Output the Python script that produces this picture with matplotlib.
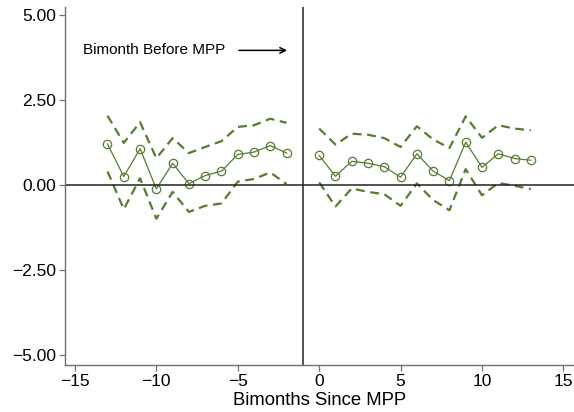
import matplotlib
matplotlib.use("Agg")
import matplotlib.pyplot as plt

plt.rcParams['font.family'] = ['Liberation Sans', 'DejaVu Sans']

# bimonths before MPP
x_pre = [-13, -12, -11, -10, -9, -8, -7, -6, -5, -4, -3, -2]
est_pre = [1.21, 0.25, 1.07, -0.11, 0.64, 0.04, 0.28, 0.41, 0.90, 0.97, 1.16, 0.94]
hi_pre = [2.04, 1.24, 1.85, 0.79, 1.38, 0.94, 1.12, 1.29, 1.71, 1.76, 1.95, 1.83]
lo_pre = [0.40, -0.71, 0.20, -0.99, -0.20, -0.79, -0.61, -0.54, 0.10, 0.18, 0.37, 0.03]

# bimonths after MPP
x_post = [0, 1, 2, 3, 4, 5, 6, 7, 8, 9, 10, 11, 12, 13]
est_post = [0.87, 0.26, 0.70, 0.64, 0.54, 0.23, 0.92, 0.41, 0.13, 1.26, 0.52, 0.92, 0.78, 0.73]
hi_post = [1.66, 1.19, 1.51, 1.48, 1.38, 1.12, 1.73, 1.34, 1.09, 2.02, 1.39, 1.76, 1.66, 1.61]
lo_post = [0.08, -0.63, -0.10, -0.20, -0.27, -0.61, 0.05, -0.44, -0.74, 0.47, -0.30, 0.06, -0.02, -0.12]

green = '#567d2e'

fig = plt.figure(figsize=(5.74, 4.12), dpi=100)
ax = fig.add_axes([65 / 574, 47 / 412, 509 / 574, 358 / 412])

for xs, est, hi, lo in [(x_pre, est_pre, hi_pre, lo_pre), (x_post, est_post, hi_post, lo_post)]:
    ax.plot(xs, hi, color=green, lw=1.6, ls=(0, (4, 2.5)))
    ax.plot(xs, lo, color=green, lw=1.6, ls=(0, (4, 2.5)))
    ax.plot(xs, est, color=green, lw=0.9, marker='o', markersize=6,
            markerfacecolor='none', markeredgecolor=green, markeredgewidth=0.9)

ax.axhline(0, color='#222222', lw=1.1)
ax.axvline(-1, color='#222222', lw=1.1)

ax.annotate('', xy=(-1.8, 3.96), xytext=(-5.1, 3.96),
            arrowprops=dict(arrowstyle='->', color='black', lw=1.1))
ax.text(-14.5, 3.96, 'Bimonth Before MPP', fontsize=11, va='center', ha='left')

ax.set_xlim(-15.61, 15.65)
ax.set_ylim(-5.29, 5.235)
ax.set_xticks([-15, -10, -5, 0, 5, 10, 15])
ax.set_xticklabels(['\u221215', '\u221210', '\u22125', '0', '5', '10', '15'])
ax.set_yticks([5, 2.5, 0, -2.5, -5])
ax.set_yticklabels(['5.00', '2.50', '0.00', '\u22122.50', '\u22125.00'])
ax.set_xlabel('Bimonths Since MPP', fontsize=13.3, labelpad=2)

for s in ['top', 'right']:
    ax.spines[s].set_visible(False)
for s in ['left', 'bottom']:
    ax.spines[s].set_color('#707070')
    ax.spines[s].set_linewidth(1.0)
ax.tick_params(axis='both', direction='out', length=4.5, width=0.9, color='#707070',
               labelsize=12.5, pad=2)

fig.savefig('out.png', dpi=100)
